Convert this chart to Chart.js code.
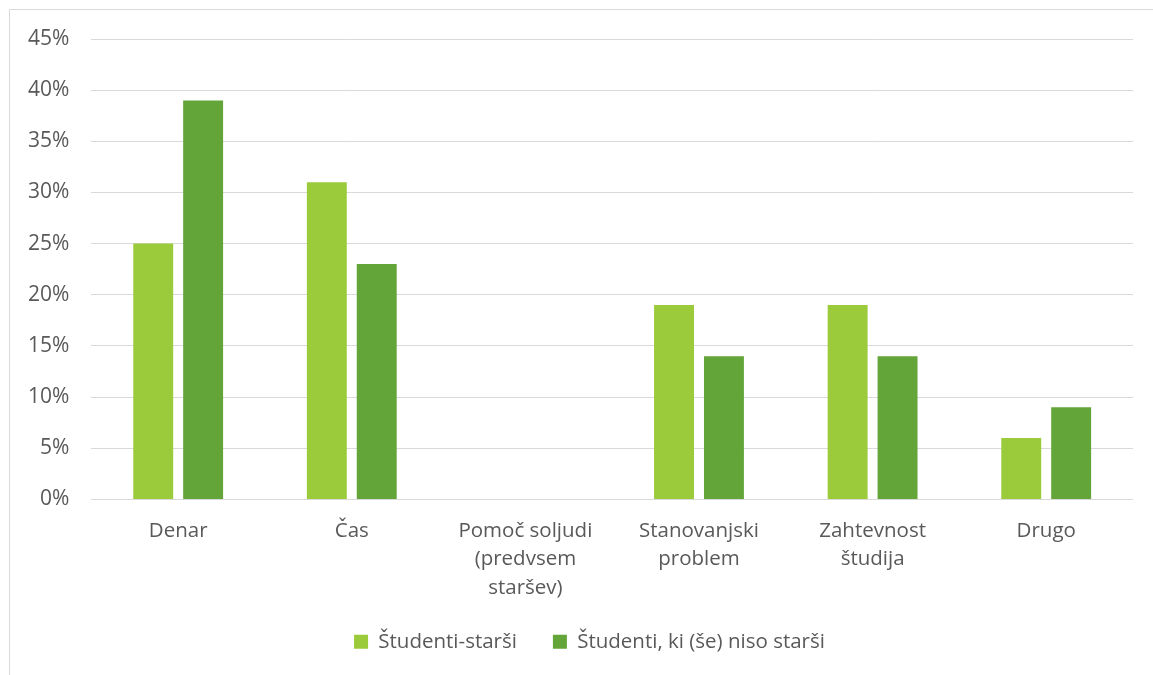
<!DOCTYPE html>
<html><head><meta charset="utf-8">
<script src="https://cdn.jsdelivr.net/npm/chart.js@4/dist/chart.umd.min.js"></script>
<style>html,body{margin:0;padding:0;background:#fff;}#wrap{width:1153px;height:675px;position:relative;}</style>
</head><body><div id="wrap"><canvas id="c" width="1153" height="675"></canvas></div>
<script>
const categories = ["Denar", "Čas", ["Pomoč soljudi", "(predvsem", "staršev)"], ["Stanovanjski", "problem"], ["Zahtevnost", "študija"], "Drugo"];
const seriesNames = ["Študenti-starši", "Študenti, ki (še) niso starši"];
const parents = [25, 31, 0, 19, 19, 6];
const nonParents = [39, 23, 0, 14, 14, 9];
const yMax = 45, yStep = 5;

const borderPlugin = {
  id: 'border',
  beforeDraw(chart) {
    const ctx = chart.ctx;
    ctx.save();
    ctx.fillStyle = '#fff';
    ctx.fillRect(0, 0, chart.width, chart.height);
    ctx.strokeStyle = '#d9d9d9';
    ctx.lineWidth = 1;
    ctx.beginPath();
    ctx.moveTo(9.5, 675);
    ctx.lineTo(9.5, 9.5);
    ctx.lineTo(1153, 9.5);
    ctx.stroke();
    ctx.restore();
  },
  afterLayout(chart) {
    if (chart.legend) { chart.legend.left += 20; chart.legend.right += 20; }
  }
};

const FONT = '"Open Sans", sans-serif';

new Chart(document.getElementById('c'), {
  type: 'bar',
  data: {
    labels: categories,
    datasets: [
      { label: seriesNames[0], data: parents, backgroundColor: '#9bcb3b' },
      { label: seriesNames[1], data: nonParents, backgroundColor: '#63a538' }
    ]
  },
  options: {
    responsive: false,
    animation: false,
    layout: { padding: { left: 6, right: 20, top: 39, bottom: 13 } },
    datasets: { bar: { categoryPercentage: 0.575, barPercentage: 0.8 } },
    scales: {
      x: {
        grid: { display: false },
        border: { display: false },
        ticks: { color: '#595959', font: { family: FONT, size: 20.5, lineHeight: 1.4 }, maxRotation: 0, autoSkip: false, padding: 9 }
      },
      y: {
        min: 0, max: yMax,
        grid: { color: '#d9d9d9', lineWidth: 1, drawTicks: false },
        border: { display: false },
        ticks: { stepSize: yStep, color: '#595959', padding: 22, font: { family: FONT, size: 21 }, callback: v => v + '%' }
      }
    },
    plugins: {
      legend: {
        position: 'bottom',
        labels: {
          color: '#595959', boxWidth: 14, boxHeight: 14, padding: 20,
          font: { family: FONT, size: 20.5 },
          generateLabels(chart) {
            const items = Chart.defaults.plugins.legend.labels.generateLabels(chart);
            items.forEach((it, i) => { if (i < items.length - 1) it.text = it.text + '   '; });
            return items;
          }
        }
      },
      tooltip: { enabled: false }
    }
  },
  plugins: [borderPlugin]
});
</script></body></html>
